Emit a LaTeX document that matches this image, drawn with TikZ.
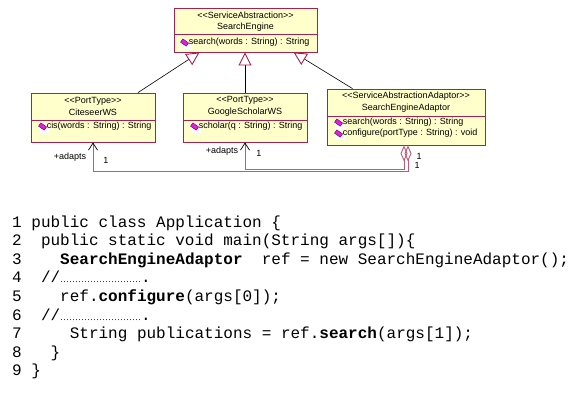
\documentclass[tikz,border=0pt]{standalone}
\usepackage{fontspec}
\setmonofont{Liberation Mono}
\newfontfamily\umlfont{Liberation Sans}
\newfontfamily\dotfont{Liberation Serif}
\usetikzlibrary{arrows.meta,calc,positioning}

\definecolor{umlborder}{HTML}{A8204E}
\definecolor{umlfill}{HTML}{FFFFCC}
\definecolor{assoccol}{HTML}{C05A7A}
\definecolor{opicon}{HTML}{E020E0}

\newcommand{\commentdots}{{\dotfont\fontsize{9}{9}\selectfont
    \char"2026\char"2026\char"2026\char"2026\char"2026\char"2026\char"2026\char"2026\char"2026}}

\tikzset{
    classbox/.style={draw=umlborder, fill=umlfill, line width=0.9pt, inner sep=0pt},
    umltext/.style={inner sep=0pt, font=\umlfont\fontsize{9}{10}\selectfont},
    genline/.style={draw=black, line width=0.6pt,
        -{Triangle[open, length=13pt, width=13pt, color=umlborder, line width=0.9pt]}},
    assoc/.style={draw=assoccol, line width=1pt,
        {Diamond[open, length=16pt, width=7pt, line width=0.9pt]}-{Straight Barb[color=black, length=7pt, width=9pt, line width=0.7pt]}},
    codeline/.style={inner sep=0pt, font=\ttfamily\fontsize{16}{18.6}\selectfont},
    pics/opmark/.style={code={
        \fill[white] (-4,0) rectangle (6,6);
        \filldraw[fill=opicon, draw=violet!70!black, line width=0.4pt, rotate=-35] (-3.5,-2) rectangle (3.5,2);
    }}
}

\begin{document}
\begin{tikzpicture}[x=1pt, y=-1pt]
    \path[fill=white] (0,0) rectangle (576,392);

    % SearchEngine
    \node[classbox, minimum width=143pt, minimum height=44pt] (se) at (245.5,30) {};
    \draw[umlborder, line width=0.9pt] ($(se.north west)+(0,27)$) -- ($(se.north east)+(0,27)$);
    \node[umltext] (seStereo) at ($(se.north)+(0,8)$) {<<ServiceAbstraction>>};
    \node[umltext] (seName) at ($(se.north)+(0,20)$) {SearchEngine};
    \pic at ($(se.north west)+(11,35)$) {opmark};
    \node[umltext, anchor=west] (seOp) at ($(se.north west)+(15,35)$) {search(words : String) : String};

    % CiteseerWS
    \node[classbox, minimum width=124pt, minimum height=49pt] (cite) at (93,117.5) {};
    \draw[umlborder, line width=0.9pt] ($(cite.north west)+(0,28)$) -- ($(cite.north east)+(0,28)$);
    \node[umltext] (citeStereo) at ($(cite.north)+(0,9)$) {<<PortType>>};
    \node[umltext] (citeName) at ($(cite.north)+(0,20)$) {CiteseerWS};
    \pic at ($(cite.north west)+(12,34)$) {opmark};
    \node[umltext, anchor=west] (citeOp) at ($(cite.north west)+(16,34)$) {cis(words : String) : String};

    % GoogleScholarWS
    \node[classbox, minimum width=124pt, minimum height=49pt] (gs) at (245,117.5) {};
    \draw[umlborder, line width=0.9pt] ($(gs.north west)+(0,28)$) -- ($(gs.north east)+(0,28)$);
    \node[umltext] (gsStereo) at ($(gs.north)+(0,8)$) {<<PortType>>};
    \node[umltext] (gsName) at ($(gs.north)+(0,20)$) {GoogleScholarWS};
    \pic at ($(gs.north west)+(12,34)$) {opmark};
    \node[umltext, anchor=west] (gsOp) at ($(gs.north west)+(16,34)$) {scholar(q : String) : String};

    % SearchEngineAdaptor
    \node[classbox, minimum width=158pt, minimum height=56pt] (ad) at (406,117) {};
    \draw[umlborder, line width=0.9pt] ($(ad.north west)+(0,28)$) -- ($(ad.north east)+(0,28)$);
    \node[umltext] (adStereo) at ($(ad.north)+(0,8)$) {<<ServiceAbstractionAdaptor>>};
    \node[umltext] (adName) at ($(ad.north)+(0,20)$) {SearchEngineAdaptor};
    \pic at ($(ad.north west)+(12,34)$) {opmark};
    \node[umltext, anchor=west] (adOp1) at ($(ad.north west)+(16,34)$) {search(words : String) : String};
    \pic at ($(ad.north west)+(12,45)$) {opmark};
    \node[umltext, anchor=west] (adOp2) at ($(ad.north west)+(16,45)$) {configure(portType : String) : void};

    % Generalisierung
    \draw[genline] (cite.29) -- (se.206);
    \draw[genline] (gs.north) -- (gs.north |- se.south);
    \draw[genline] (ad.152) -- (se.-25);

    % Assoziationen
    \draw[assoc] ($(ad.south)+(-2,0)$) -- ++(0,24) -| (gs.south);
    \draw[assoc] ($(ad.south)+(2,0)$) -- ++(0,26) -| (cite.south);

    \node[umltext] (citeRole) at ($(cite.south)+(-23,15)$) {+adapts};
    \node[umltext] (citeMult) at ($(cite.south)+(13,18)$) {1};
    \node[umltext] (gsRole) at ($(gs.south)+(-23,9)$) {+adapts};
    \node[umltext] (gsMult) at ($(gs.south)+(14,11)$) {1};
    \node[umltext] (adMultA) at ($(ad.south)+(13,11)$) {1};
    \node[umltext] (adMultB) at ($(ad.south)+(11,20)$) {1};

    % Quelltext
    \foreach \txt [count=\i] in {
        {1 public class Application \{},
        {2~~public static void main(String args[])\{},
        {3~~~~\textbf{SearchEngineAdaptor}~~ref = new SearchEngineAdaptor();},
        {4~~//\commentdots.},
        {5~~~~ref.\textbf{configure}(args[0]);},
        {6~~//\commentdots.},
        {7~~~~~String publications = ref.\textbf{search}(args[1]);},
        {8~~~\}},
        {9 \}}
    }{
        \node[codeline, anchor=base west] (line\i) at (12,{227+18.6*(\i-1)}) {\txt};
    }
\end{tikzpicture}
\end{document}
